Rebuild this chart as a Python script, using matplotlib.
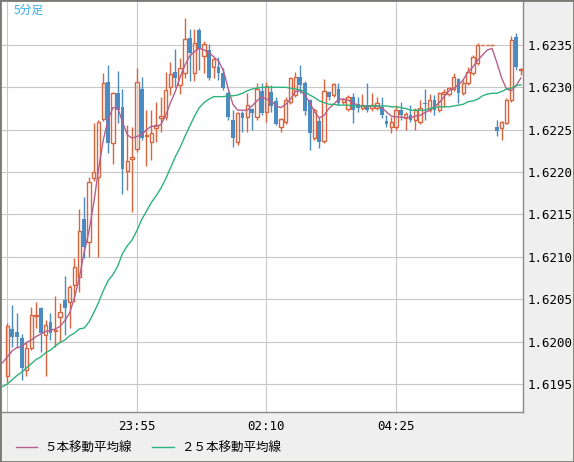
import numpy as np
import matplotlib.pyplot as plt
from matplotlib.lines import Line2D
from matplotlib.patches import Rectangle

# 5-minute candles, index 0 = 21:40
opens = [1.61959, 1.62015, 1.62011, 1.62004, 1.61967, 1.61993, 1.62030, 1.62040, 1.62008, 1.62023,
         1.62012, 1.62029, 1.62049, 1.62047, 1.62067, 1.62076, 1.62145, 1.62117, 1.62193, 1.62194,
         1.62263, 1.62306, 1.62234, 1.62293, 1.62277, 1.62201, 1.62216, 1.62227, 1.62298, 1.62242,
         1.62236, 1.62252, 1.62264, 1.62265, 1.62300, 1.62318, 1.62303, 1.62317, 1.62358, 1.62317,
         1.62368, 1.62337, 1.62344, 1.62324, 1.62324, 1.62317, 1.62293, 1.62262, 1.62236, 1.62270,
         1.62265, 1.62275, 1.62265, 1.62296, 1.62271, 1.62295, 1.62284, 1.62253, 1.62259, 1.62283,
         1.62291, 1.62312, 1.62305, 1.62285, 1.62240, 1.62260, 1.62237, 1.62295, 1.62291, 1.62298,
         1.62283, 1.62275, 1.62289, 1.62280, 1.62276, 1.62279, 1.62276, 1.62276, 1.62277, 1.62260,
         1.62253, 1.62253, 1.62273, 1.62264, 1.62267, 1.62262, 1.62259, 1.62282, 1.62273, 1.62285,
         1.62273, 1.62292, 1.62292, 1.62298, 1.62310, 1.62293, 1.62305, 1.62317, 1.62329, 1.62350,
         1.62350, 1.62350, 1.62253, 1.62252, 1.62258, 1.62285, 1.62359, 1.62320]
highs = [1.62022, 1.62043, 1.62034, 1.62009, 1.61999, 1.62041, 1.62047, 1.62041, 1.62026, 1.62034,
         1.62054, 1.62046, 1.62078, 1.62067, 1.62099, 1.62157, 1.62171, 1.62194, 1.62258, 1.62261,
         1.62317, 1.62326, 1.62295, 1.62319, 1.62298, 1.62256, 1.62253, 1.62323, 1.62312, 1.62273,
         1.62273, 1.62283, 1.62289, 1.62318, 1.62330, 1.62345, 1.62335, 1.62382, 1.62369, 1.62369,
         1.62370, 1.62355, 1.62351, 1.62336, 1.62336, 1.62323, 1.62296, 1.62273, 1.62271, 1.62272,
         1.62293, 1.62276, 1.62305, 1.62305, 1.62306, 1.62303, 1.62288, 1.62264, 1.62289, 1.62312,
         1.62318, 1.62326, 1.62307, 1.62286, 1.62276, 1.62265, 1.62310, 1.62296, 1.62305, 1.62305,
         1.62287, 1.62291, 1.62293, 1.62289, 1.62292, 1.62305, 1.62293, 1.62288, 1.62289, 1.62267,
         1.62265, 1.62279, 1.62283, 1.62271, 1.62279, 1.62276, 1.62285, 1.62298, 1.62292, 1.62291,
         1.62295, 1.62298, 1.62300, 1.62317, 1.62311, 1.62309, 1.62324, 1.62338, 1.62352, 1.62350,
         1.62350, 1.62350, 1.62262, 1.62260, 1.62287, 1.62361, 1.62364, 1.62323]
lows = [1.61952, 1.61994, 1.61993, 1.61955, 1.61959, 1.61990, 1.62016, 1.61988, 1.61959, 1.62002,
        1.61994, 1.62000, 1.62008, 1.62016, 1.62047, 1.62059, 1.62099, 1.62100, 1.62190, 1.62100,
        1.62260, 1.62223, 1.62209, 1.62258, 1.62174, 1.62179, 1.62153, 1.62224, 1.62238, 1.62207,
        1.62214, 1.62236, 1.62247, 1.62262, 1.62291, 1.62300, 1.62292, 1.62311, 1.62308, 1.62308,
        1.62320, 1.62317, 1.62309, 1.62311, 1.62309, 1.62297, 1.62262, 1.62230, 1.62232, 1.62247,
        1.62247, 1.62250, 1.62262, 1.62267, 1.62259, 1.62271, 1.62256, 1.62247, 1.62257, 1.62280,
        1.62289, 1.62293, 1.62267, 1.62226, 1.62238, 1.62229, 1.62234, 1.62285, 1.62289, 1.62279,
        1.62280, 1.62272, 1.62258, 1.62271, 1.62273, 1.62271, 1.62272, 1.62273, 1.62264, 1.62253,
        1.62246, 1.62250, 1.62262, 1.62250, 1.62259, 1.62250, 1.62257, 1.62262, 1.62271, 1.62267,
        1.62271, 1.62277, 1.62290, 1.62296, 1.62282, 1.62291, 1.62303, 1.62315, 1.62326, 1.62350,
        1.62350, 1.62350, 1.62243, 1.62238, 1.62257, 1.62283, 1.62320, 1.62315]
closes = [1.62018, 1.62006, 1.62005, 1.61969, 1.61993, 1.62031, 1.62032, 1.62010, 1.62020, 1.62010,
          1.62014, 1.62035, 1.62040, 1.62065, 1.62088, 1.62131, 1.62112, 1.62188, 1.62200, 1.62259,
          1.62305, 1.62234, 1.62293, 1.62273, 1.62204, 1.62213, 1.62218, 1.62306, 1.62240, 1.62244,
          1.62246, 1.62256, 1.62266, 1.62297, 1.62316, 1.62311, 1.62323, 1.62357, 1.62341, 1.62352,
          1.62345, 1.62351, 1.62311, 1.62333, 1.62317, 1.62299, 1.62265, 1.62240, 1.62270, 1.62264,
          1.62279, 1.62270, 1.62298, 1.62270, 1.62302, 1.62278, 1.62257, 1.62263, 1.62285, 1.62311,
          1.62312, 1.62303, 1.62272, 1.62246, 1.62273, 1.62236, 1.62296, 1.62288, 1.62304, 1.62282,
          1.62286, 1.62288, 1.62273, 1.62276, 1.62279, 1.62273, 1.62279, 1.62282, 1.62267, 1.62257,
          1.62259, 1.62273, 1.62267, 1.62269, 1.62262, 1.62273, 1.62276, 1.62280, 1.62285, 1.62273,
          1.62293, 1.62294, 1.62299, 1.62312, 1.62293, 1.62305, 1.62318, 1.62336, 1.62350, 1.62350,
          1.62350, 1.62350, 1.62249, 1.62259, 1.62285, 1.62356, 1.62324, 1.62322]

# moving averages as drawn, starting one bar before the first candle
ma5 = [1.61975, 1.61982, 1.61989, 1.61993, 1.61994, 1.61999, 1.62002, 1.62006, 1.62009, 1.62012,
       1.62013, 1.62015, 1.62018, 1.62025, 1.62034, 1.62052, 1.62075, 1.62105, 1.62130, 1.62163,
       1.62203, 1.62238, 1.62262, 1.62276, 1.62276, 1.62259, 1.62244, 1.62240, 1.62242, 1.62244,
       1.62250, 1.62254, 1.62254, 1.62256, 1.62267, 1.62282, 1.62295, 1.62312, 1.62326, 1.62337,
       1.62342, 1.62346, 1.62344, 1.62341, 1.62336, 1.62331, 1.62320, 1.62299, 1.62280, 1.62273,
       1.62273, 1.62273, 1.62278, 1.62284, 1.62289, 1.62286, 1.62284, 1.62278, 1.62276, 1.62280,
       1.62286, 1.62295, 1.62296, 1.62291, 1.62282, 1.62271, 1.62264, 1.62267, 1.62275, 1.62280,
       1.62286, 1.62286, 1.62285, 1.62282, 1.62279, 1.62278, 1.62277, 1.62278, 1.62278, 1.62276,
       1.62271, 1.62266, 1.62265, 1.62265, 1.62264, 1.62264, 1.62266, 1.62267, 1.62270, 1.62273,
       1.62277, 1.62282, 1.62289, 1.62296, 1.62299, 1.62303, 1.62309, 1.62318, 1.62324, 1.62332,
       1.62338, 1.62344, 1.62346, 1.62329, 1.62311, 1.62298, 1.62296, 1.62302, 1.62311]
ma25 = [1.61947, 1.61950, 1.61955, 1.61960, 1.61964, 1.61969, 1.61974, 1.61979, 1.61982, 1.61987,
        1.61990, 1.61995, 1.61999, 1.62002, 1.62007, 1.62010, 1.62015, 1.62016, 1.62023, 1.62034,
        1.62046, 1.62060, 1.62072, 1.62079, 1.62089, 1.62104, 1.62113, 1.62120, 1.62131, 1.62144,
        1.62154, 1.62164, 1.62172, 1.62181, 1.62192, 1.62205, 1.62218, 1.62229, 1.62242, 1.62254,
        1.62266, 1.62276, 1.62282, 1.62286, 1.62289, 1.62289, 1.62289, 1.62290, 1.62290, 1.62291,
        1.62293, 1.62296, 1.62298, 1.62299, 1.62300, 1.62300, 1.62300, 1.62300, 1.62300, 1.62300,
        1.62299, 1.62298, 1.62297, 1.62295, 1.62291, 1.62288, 1.62284, 1.62282, 1.62280, 1.62280,
        1.62279, 1.62279, 1.62279, 1.62278, 1.62278, 1.62278, 1.62278, 1.62278, 1.62278, 1.62278,
        1.62278, 1.62277, 1.62277, 1.62276, 1.62275, 1.62273, 1.62273, 1.62273, 1.62273, 1.62275,
        1.62276, 1.62277, 1.62277, 1.62277, 1.62278, 1.62279, 1.62280, 1.62283, 1.62284, 1.62286,
        1.62290, 1.62292, 1.62293, 1.62293, 1.62295, 1.62298, 1.62299, 1.62302, 1.62303]

time_ticks = [27, 54, 81]
time_labels = ["23:55", "02:10", "04:25"]
price_ticks = [1.6195, 1.6200, 1.6205, 1.6210, 1.6215, 1.6220, 1.6225, 1.6230, 1.6235]

UP = "#d9643e"
DOWN = "#4a8bc1"
C_MA5 = "#b4608f"
C_MA25 = "#2db37b"

fig = plt.figure(figsize=(5.74, 4.62), dpi=100, facecolor="#efefef")
fig.patches.append(Rectangle((0, 0), 1, 1, transform=fig.transFigure, fill=False,
                             edgecolor="#7a7a74", linewidth=2.0, zorder=10))
ax = fig.add_axes([0, 50 / 462, 523 / 574, 412 / 462])
ax.set_facecolor("white")

o = np.array(opens)
h = np.array(highs)
l = np.array(lows)
c = np.array(closes)
x = np.arange(len(o))
up = c >= o
top = np.maximum(o, c)
bot = np.minimum(o, c)
w = 0.68

# wicks above and below the body
ax.vlines(x[up], top[up], h[up], color=UP, linewidth=1.0, zorder=2)
ax.vlines(x[up], l[up], bot[up], color=UP, linewidth=1.0, zorder=2)
ax.vlines(x[~up], l[~up], h[~up], color=DOWN, linewidth=1.0, zorder=2)
ax.bar(x[up], top[up] - bot[up], bottom=bot[up], width=w, facecolor="none",
       edgecolor=UP, linewidth=1.0, zorder=3)
ax.bar(x[~up], top[~up] - bot[~up], bottom=bot[~up], width=w + 0.14, color=DOWN,
       linewidth=0, zorder=3)

xm = np.arange(-1, len(ma5) - 1)
ax.plot(xm, ma5, color=C_MA5, linewidth=1.0, zorder=4)
ax.plot(xm, ma25, color=C_MA25, linewidth=1.0, zorder=4)

ax.set_xlim(-1.52, 107.44)
ax.set_ylim(1.61917, 1.62403)

ax.set_xticks([0] + time_ticks)
ax.set_xticklabels([""] + time_labels, fontfamily="DejaVu Sans Mono", fontsize=9)
ax.set_yticks(price_ticks)
ax.set_yticklabels([f"{v:.4f}" for v in price_ticks], fontfamily="DejaVu Sans Mono",
                   fontsize=9)
ax.yaxis.tick_right()
ax.tick_params(axis="both", length=0, colors="black")
ax.tick_params(axis="y", pad=3)
ax.tick_params(axis="x", pad=6)
ax.grid(True, color="#c8c8c8", linewidth=0.8, zorder=0)
ax.set_axisbelow(True)
for s in ["left", "top"]:
    ax.spines[s].set_visible(False)
for s in ["right", "bottom"]:
    ax.spines[s].set_color("#8a8a8a")
    ax.spines[s].set_linewidth(1.0)

ax.text(14 / 523, 1 - 10 / 412, "5分足", transform=ax.transAxes, fontsize=8.5,
        color="#3aaee8", va="center", ha="left",
        fontfamily=["Noto Sans CJK JP", "DejaVu Sans"])

handles = [Line2D([], [], color=C_MA5, linewidth=1.0),
           Line2D([], [], color=C_MA25, linewidth=1.0)]
fig.legend(handles, ["５本移動平均線", "２５本移動平均線"], loc="center left",
           bbox_to_anchor=(16 / 574, 14 / 462), ncol=2, frameon=False,
           prop={"family": ["Noto Sans CJK JP", "DejaVu Sans"], "size": 9},
           handlelength=1.7, handletextpad=0.6, columnspacing=1.6,
           borderpad=0, borderaxespad=0)

fig.savefig("out.png", dpi=100, facecolor=fig.get_facecolor())
